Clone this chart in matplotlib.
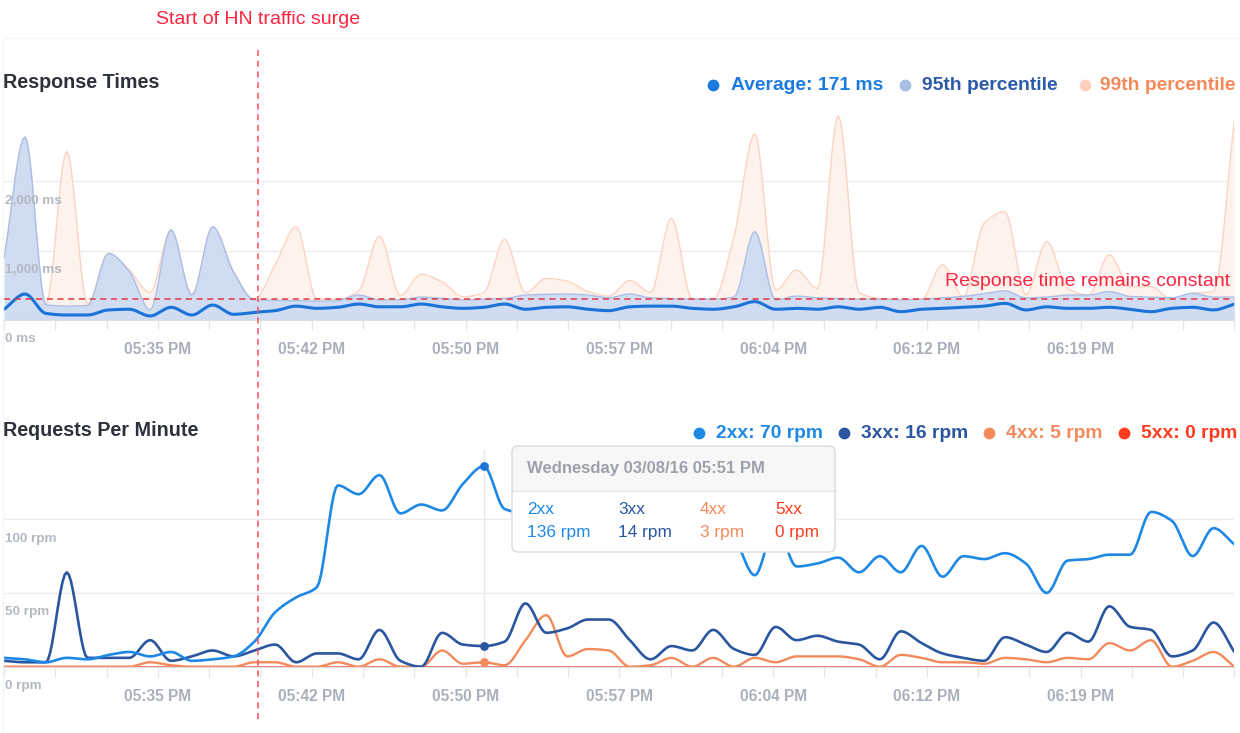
import numpy as np
import matplotlib.pyplot as plt
from matplotlib.patches import FancyBboxPatch, Rectangle

plt.rcParams['font.family'] = ['Liberation Sans', 'DejaVu Sans']

# one sample per minute, 60 minutes shown
minutes = np.arange(60)

# response times (ms)
avg_ms = [155, 375, 95, 72, 72, 145, 155, 58, 183, 72,
          216, 82, 110, 135, 200, 168, 183, 230, 190, 190,
          230, 190, 168, 183, 230, 155, 183, 190, 155, 135,
          190, 200, 200, 168, 155, 190, 265, 155, 168, 155,
          190, 155, 183, 120, 155, 168, 183, 200, 240, 145,
          190, 168, 168, 183, 155, 120, 168, 183, 145, 230]
p95_ms = [900, 2640, 220, 200, 210, 960, 700, 145, 1300, 360,
          1345, 690, 290, 283, 280, 270, 280, 360, 290, 290,
          330, 310, 290, 300, 310, 360, 370, 375, 360, 320,
          375, 320, 310, 300, 300, 330, 1275, 290, 345, 320,
          310, 300, 300, 290, 300, 320, 340, 380, 420, 320,
          330, 360, 360, 410, 340, 330, 320, 385, 330, 330]
p99_ms = [900, 2640, 220, 2430, 230, 960, 720, 395, 1300, 360,
          1345, 700, 300, 800, 1345, 300, 300, 420, 1210, 355,
          660, 550, 336, 395, 1165, 395, 600, 560, 410, 345,
          570, 395, 1470, 300, 300, 1200, 2685, 430, 720, 455,
          2945, 395, 310, 300, 300, 800, 335, 1400, 1560, 360,
          1130, 455, 360, 940, 480, 480, 300, 385, 410, 2885]

# requests per minute by status class
rpm_2xx = [6, 5, 3, 6, 5, 8, 10, 7, 10, 4,
           5, 7, 17, 37, 47, 54, 123, 117, 130, 104,
           110, 106, 124, 136, 107, 104, 110, 100, 112, 105,
           98, 108, 100, 95, 102, 88, 62, 96, 68, 70,
           74, 64, 75, 64, 82, 61, 75, 73, 77, 70,
           50, 72, 73, 76, 76, 105, 99, 75, 94, 83]
rpm_3xx = [4, 3, 3, 64, 6, 6, 6, 18, 4, 7,
           11, 7, 11, 15, 3, 9, 9, 5, 25, 4,
           0, 23, 15, 14, 17, 43, 23, 26, 32, 32,
           18, 5, 14, 11, 25, 12, 8, 27, 18, 21,
           17, 15, 5, 24, 16, 9, 6, 4, 20, 15,
           10, 23, 17, 41, 27, 25, 7, 11, 30, 10]
rpm_4xx = [0, 0, 0, 0, 0, 0, 0, 3, 1, 0,
           0, 0, 3, 3, 0, 0, 3, 0, 5, 0,
           0, 11, 2, 3, 1, 18, 35, 7, 12, 11,
           0, 1, 6, 0, 6, 0, 6, 3, 7, 7,
           7, 5, 0, 8, 6, 3, 3, 2, 6, 5,
           3, 6, 5, 16, 11, 18, 0, 4, 10, 0]
rpm_5xx = [0] * 60

time_labels = ['05:35 PM', '05:42 PM', '05:50 PM', '05:57 PM', '06:04 PM', '06:12 PM', '06:19 PM']
ms_ticks = [1000, 2000]
rpm_ticks = [50, 100]
surge_minute = 12.17
constant_ms = 300
hover = 23

C_AVG, C_95, C_99 = '#1a73d9', '#2a5aa8', '#f5895a'
C_2XX, C_3XX, C_4XX, C_5XX = '#1e88e5', '#2a56a0', '#f28a5c', '#ff3b1f'
RED = '#ff2442'
GREY = '#a9b0bc'


def smooth(x, y, n=10):
    # monotone cubic (like d3 curveMonotoneX) just for drawing
    x = np.asarray(x, float)
    y = np.asarray(y, float)
    h = np.diff(x)
    d = np.diff(y) / h
    m = np.zeros_like(y)
    m[0], m[-1] = d[0], d[-1]
    for i in range(1, len(y) - 1):
        if d[i - 1] * d[i] > 0:
            w1 = 2 * h[i] + h[i - 1]
            w2 = h[i] + 2 * h[i - 1]
            m[i] = (w1 + w2) / (w1 / d[i - 1] + w2 / d[i])
    t = np.linspace(0, 1, n, endpoint=False)
    h00 = 2 * t**3 - 3 * t**2 + 1
    h10 = t**3 - 2 * t**2 + t
    h01 = -2 * t**3 + 3 * t**2
    h11 = t**3 - t**2
    xs, ys = [], []
    for i in range(len(x) - 1):
        xs.append(x[i] + t * h[i])
        ys.append(h00 * y[i] + h10 * h[i] * m[i] + h01 * y[i + 1] + h11 * h[i] * m[i + 1])
    xs.append([x[-1]])
    ys.append([y[-1]])
    return np.concatenate(xs), np.concatenate(ys)


W, H = 1240, 733
fig = plt.figure(figsize=(W / 100, H / 100), dpi=100)


def px_axes(left, top, right, bottom):
    return fig.add_axes([left / W, 1 - bottom / H, (right - left) / W, (bottom - top) / H])


ax1 = px_axes(4.2, 105, 1234.4, 320)
ax2 = px_axes(4.2, 450, 1234.4, 666.7)

tick_pos = np.linspace(0, 59, 25)
tick_lab = [''] * 25
for i, lab in enumerate(time_labels):
    tick_lab[3 * (i + 1)] = lab

for ax, yt, unit in ((ax1, ms_ticks, 'ms'), (ax2, rpm_ticks, 'rpm')):
    ax.set_xlim(0, 59)
    for s in ('top', 'right', 'left'):
        ax.spines[s].set_visible(False)
    ax.spines['bottom'].set_color('#dcdfe4')
    ax.set_xticks(tick_pos, tick_lab)
    ax.tick_params(axis='x', length=7.2, width=1, color='#e3e6ea',
                   labelsize=11.2, labelcolor=GREY, pad=8.5)
    for lbl in ax.get_xticklabels():
        lbl.set_fontweight('bold')
    ax.set_yticks(yt)
    ax.tick_params(axis='y', left=False, labelleft=False)
    ax.yaxis.grid(True, color='#ececec', lw=1)
    ax.set_axisbelow(True)
    ax.set_facecolor('none')
    for v in [0] + yt:
        ax.annotate(f'{v:,} {unit}', xy=(0, v), xycoords=('axes fraction', 'data'),
                    xytext=(0.6, -14), textcoords='offset points', va='center', ha='left',
                    fontsize=9.7, fontweight='bold', color='#b3b9c3')

# response times
ax1.set_ylim(0, 3100)
xs, ys = smooth(minutes, p99_ms)
ax1.fill_between(xs, 0, ys, color='#fef2ed', lw=0, zorder=1)
ax1.plot(xs, ys, color='#fbd3c2', lw=1, zorder=1.1)
xs, ys = smooth(minutes, p95_ms)
ax1.fill_between(xs, 0, ys, color='#cfdcf1', lw=0, zorder=2)
ax1.plot(xs, ys, color='#a9bfe6', lw=1, zorder=2.1)
xs, ys = smooth(minutes, avg_ms)
ax1.plot(xs, ys, color=C_AVG, lw=2.2, zorder=4, solid_capstyle='round')
ax1.axhline(constant_ms, color='#e8353f', lw=1.1, dashes=(4, 3), zorder=5)

# requests per minute
ax2.set_ylim(0, 147)
ax2.axvline(hover, color='#e6e7ea', lw=1, zorder=0.5)
for series, col, lw in ((rpm_5xx, '#ff6a5a', 1.2), (rpm_4xx, C_4XX, 1.7),
                        (rpm_3xx, C_3XX, 1.9), (rpm_2xx, C_2XX, 1.9)):
    xs, ys = smooth(minutes, series)
    ax2.plot(xs, ys, color=col, lw=lw, zorder=3, solid_capstyle='round')
for series, col in ((rpm_2xx, '#1f73d4'), (rpm_3xx, C_3XX), (rpm_4xx, C_4XX)):
    ax2.scatter([hover], [series[hover]], s=40, color=col, zorder=4, lw=0)

# overlay in pixel coordinates for titles, legends, notes and tooltip
ov = fig.add_axes([0, 0, 1, 1])
ov.set_xlim(0, W)
ov.set_ylim(H, 0)
ov.axis('off')
ov.patch.set_alpha(0)

ov.plot([3, 3, W], [H, 38, 38], color='#f4f5f6', lw=1)

surge_x = ax1.transData.transform((surge_minute, 0))[0]
ov.plot([surge_x, surge_x], [50, 720], color='#ff4d5e', lw=1.1, dashes=(4, 3))
ov.text(surge_x, 20, 'Start of HN traffic surge', color=RED, fontsize=14,
        ha='center', va='center')
ov.text(1230, 281, 'Response time remains constant', color=RED, fontsize=14,
        ha='right', va='center')

ov.text(3, 83, 'Response Times', fontsize=14.2, fontweight='bold', color='#2c313c', va='center')
ov.text(3, 431, 'Requests Per Minute', fontsize=14.2, fontweight='bold', color='#2c313c', va='center')

legend_top = [(713, 731, 'Average: 171 ms', '#1b7ae0', '#1b7ae0'),
              (905, 922, '95th percentile', '#a7bfe6', C_95),
              (1085, 1100, '99th percentile', '#fbd0bd', C_99)]
legend_bot = [(699, 716, '2xx: 70 rpm', C_2XX, C_2XX),
              (844, 861, '3xx: 16 rpm', C_3XX, C_3XX),
              (989, 1006, '4xx: 5 rpm', C_4XX, C_4XX),
              (1124, 1141, '5xx: 0 rpm', C_5XX, C_5XX)]
for y, items in ((85, legend_top), (433, legend_bot)):
    for dx, tx, lab, dc, tc in items:
        ov.scatter([dx], [y], s=72, color=dc, lw=0)
        ov.text(tx, y, lab, color=tc, fontsize=13.9, fontweight='bold', va='center')

# tooltip
box = FancyBboxPatch((512, 446), 323, 106, boxstyle='round,pad=0,rounding_size=6',
                     fc='white', ec='none', zorder=5)
ov.add_patch(box)
head = Rectangle((512, 446), 323, 45, fc='#f7f7f8', ec='none', zorder=5.1)
ov.add_patch(head)
head.set_clip_path(box)
ov.plot([512, 835], [491, 491], color='#e4e6ea', lw=1, zorder=5.2)
ov.add_patch(FancyBboxPatch((512, 446), 323, 106, boxstyle='round,pad=0,rounding_size=6',
                            fc='none', ec='#d6dae0', lw=1, zorder=5.3))
ov.text(527, 468, 'Wednesday 03/08/16 05:51 PM', color='#9ba1ab', fontsize=12,
        fontweight='bold', va='center', zorder=6)
for cx, name, series, col in ((527, '2xx', rpm_2xx, C_2XX), (618, '3xx', rpm_3xx, C_3XX),
                              (700, '4xx', rpm_4xx, C_4XX), (775, '5xx', rpm_5xx, C_5XX)):
    ov.text(cx, 510, name, color=col, fontsize=12.4, va='center', zorder=6)
    ov.text(cx, 532, f'{series[hover]} rpm', color=col, fontsize=12.4, va='center', zorder=6)

fig.savefig('out.png', dpi=100)
